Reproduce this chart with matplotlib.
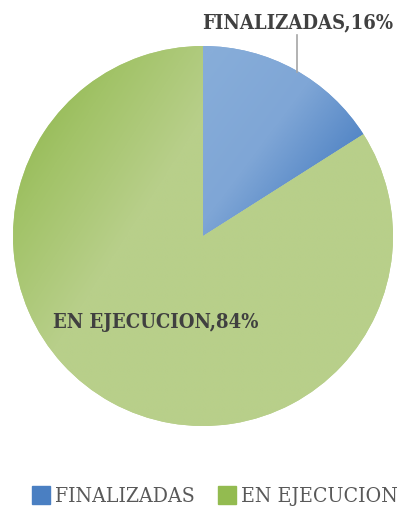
import numpy as np
import matplotlib
matplotlib.use("Agg")
import matplotlib.pyplot as plt
from matplotlib.lines import Line2D
from matplotlib.colors import LinearSegmentedColormap
from matplotlib import font_manager as fm

categories = ["FINALIZADAS", "EN EJECUCION"]
values = [16, 84]
label_texts = ["FINALIZADAS,16%", "EN EJECUCION,84%"]

fig = plt.figure(figsize=(4.09, 5.15), dpi=100)
ax = fig.add_axes([13/409, 89/515, 380/409, 380/515])
ax.axis("off")

wedges, _ = ax.pie(values, startangle=90, counterclock=False, radius=1,
                   colors=["#7fa6d6", "#b8cf8a"],
                   wedgeprops=dict(linewidth=0))

n = 400
xs = np.linspace(-1, 1, n)
X, Y = np.meshgrid(xs, xs[::-1])

t_b = np.clip(((X - 0.0) * 0.8 + (0.9 - Y) * 0.6) / 1.0, 0, 1)
cmap_b = LinearSegmentedColormap.from_list("b", ["#87add9", "#7fa6d6", "#4a7fc2"])
im1 = ax.imshow(t_b, extent=(-1, 1, -1, 1), cmap=cmap_b, vmin=0, vmax=1,
                interpolation="bilinear", zorder=2)
im1.set_clip_path(wedges[0])

d = ((X + 1) * 0.7 + (1 - Y) * 0.45)
t_g = np.clip(d / 1.3, 0, 1)
cmap_g = LinearSegmentedColormap.from_list("g", ["#88b243", "#a2c368", "#b8cf8a", "#b8cf8a"])
im2 = ax.imshow(t_g, extent=(-1, 1, -1, 1), cmap=cmap_g, vmin=0, vmax=1,
                interpolation="bilinear", zorder=2)
im2.set_clip_path(wedges[1])

ax.set_xlim(-1, 1)
ax.set_ylim(-1, 1)
ax.set_aspect("equal")

names = {f.name for f in fm.fontManager.ttflist}
if "DejaVu Serif" in names:
    serif = ["DejaVu Serif"]
    stretch = "condensed"
    lsize, gsize = 14.5, 15.2
else:
    serif = ["Liberation Serif"]
    stretch = "normal"
    lsize, gsize = 15, 15

fig.text(298/409, 1 - 22/515, label_texts[0], ha="center", va="center",
         fontsize=lsize, fontweight="bold", fontstretch=stretch,
         color="#404040", family=serif)
fig.add_artist(Line2D([297/409, 297/409], [1 - 35/515, 1 - 72/515],
                      color="#a6a6a6", lw=1.2))
fig.text(156/409, 1 - 322/515, label_texts[1], ha="center", va="center",
         fontsize=lsize, fontweight="bold", fontstretch=stretch,
         color="#404040", family=serif)

handles = [Line2D([], [], marker="s", linestyle="none", markersize=12.5,
                  markerfacecolor=c, markeredgecolor=c)
           for c in ["#4a7fc2", "#93bb50"]]
leg = fig.legend(handles, categories, loc="center", bbox_to_anchor=(0.528, 1 - 497/515),
                 ncol=2, frameon=False, handlelength=0.7, handletextpad=0.3,
                 columnspacing=1.2, borderpad=0, borderaxespad=0,
                 prop=fm.FontProperties(family=serif, size=gsize, stretch=stretch))
for t in leg.get_texts():
    t.set_color("#595959")

fig.savefig("out.png", dpi=100)
